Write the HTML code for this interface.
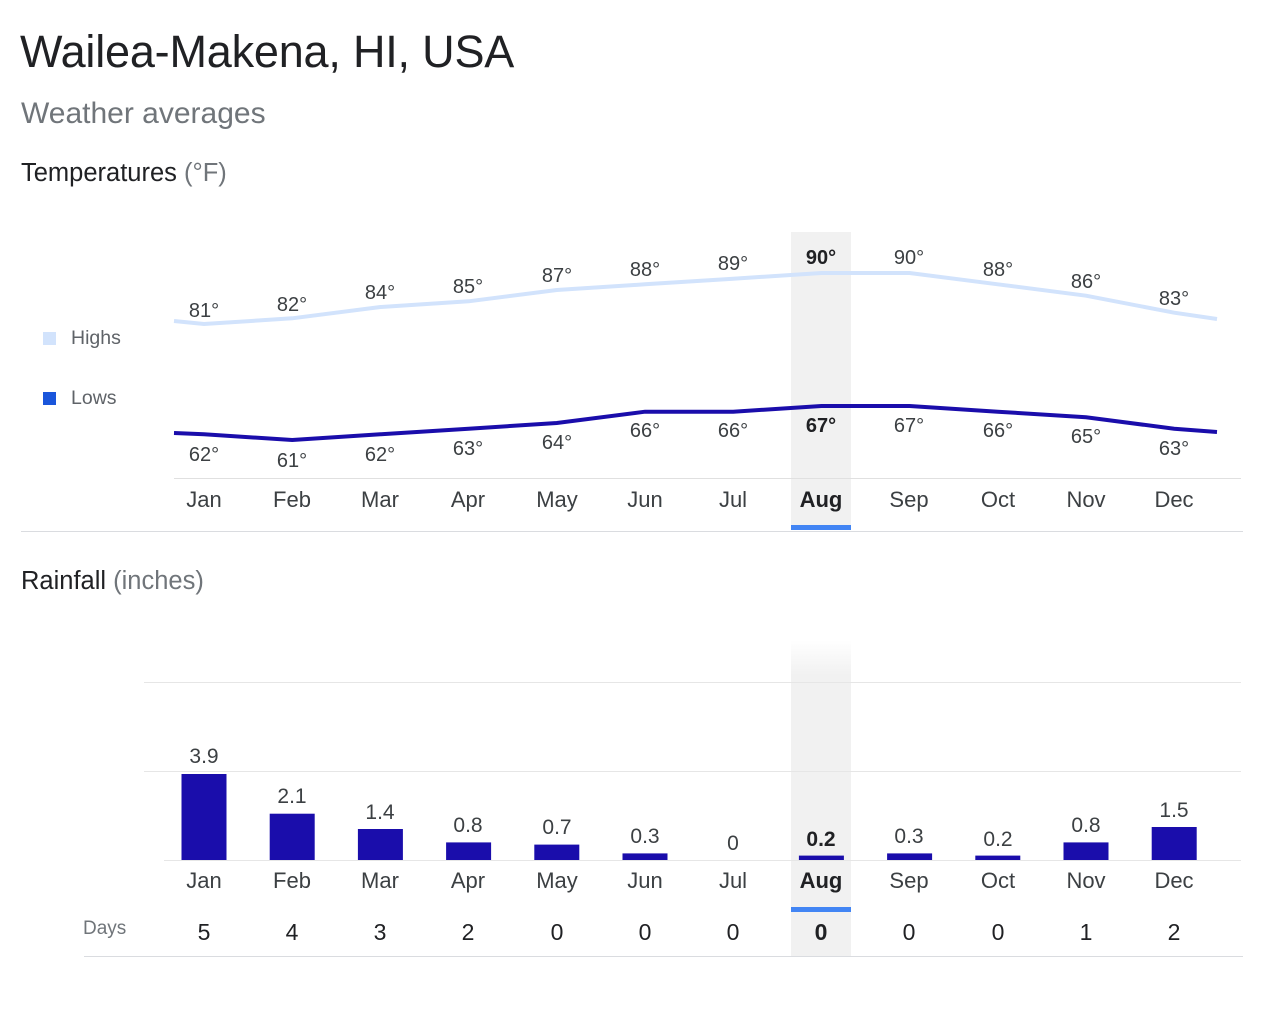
<!DOCTYPE html>
<html><head><meta charset="utf-8"><style>
html,body{margin:0;padding:0;background:#fff;}
body{width:1284px;height:1012px;overflow:hidden;font-family:"Liberation Sans",Arial,sans-serif;}
svg text{font-family:"Liberation Sans",Arial,sans-serif;}
</style></head><body>
<svg width="1284" height="1012" viewBox="0 0 1284 1012" xmlns="http://www.w3.org/2000/svg">
<defs><linearGradient id="fade" x1="0" y1="0" x2="0" y2="1"><stop offset="0" stop-color="#f1f1f1" stop-opacity="0"/><stop offset="1" stop-color="#f1f1f1"/></linearGradient></defs>
<text x="20" y="67" font-size="45" fill="#202124" letter-spacing="-0.2">Wailea-Makena, HI, USA</text>
<text x="21" y="123" font-size="30" fill="#70757a">Weather averages</text>
<text x="21" y="181" font-size="25.5" fill="#202124">Temperatures <tspan fill="#70757a">(°F)</tspan></text>
<rect x="791" y="232" width="60" height="298" fill="#f1f1f1"/>
<rect x="791" y="525" width="60" height="5" fill="#4285f4"/>
<rect x="43" y="332" width="13" height="13" fill="#d2e3fc"/>
<text x="71" y="344" font-size="19.5" fill="#5f6368">Highs</text>
<rect x="43" y="392" width="13" height="13" fill="#1a56db"/>
<text x="71" y="404" font-size="19.5" fill="#5f6368">Lows</text>
<line x1="174" y1="478.5" x2="1241" y2="478.5" stroke="#e0e0e0" stroke-width="1"/>
<polyline fill="none" stroke="#d2e3fc" stroke-width="4" points="174,321 204,324 292.2,318.3 380.4,307 468.6,301.3 556.8,290 645,284.3 733.2,278.7 821.4,273 909.6,273 997.8,284.3 1086,295.7 1174.2,312.7 1217,319"/>
<polyline fill="none" stroke="#1a0dab" stroke-width="4" points="174,433 204,434.3 292.2,440 380.4,434.3 468.6,428.7 556.8,423 645,411.7 733.2,411.7 821.4,406 909.6,406 997.8,411.7 1086,417.3 1174.2,428.7 1217,432"/>
<g font-size="20" fill="#3c4043" text-anchor="middle">
<text x="204" y="317">81°</text><text x="292" y="311">82°</text><text x="380" y="299">84°</text><text x="468" y="293">85°</text><text x="557" y="282">87°</text><text x="645" y="276">88°</text><text x="733" y="270">89°</text><text x="821" y="264" font-weight="bold" fill="#202124">90°</text><text x="909" y="264">90°</text><text x="998" y="276">88°</text><text x="1086" y="288">86°</text><text x="1174" y="305">83°</text>
<text x="204" y="461">62°</text><text x="292" y="467">61°</text><text x="380" y="461">62°</text><text x="468" y="455">63°</text><text x="557" y="449">64°</text><text x="645" y="437">66°</text><text x="733" y="437">66°</text><text x="821" y="432" font-weight="bold" fill="#202124">67°</text><text x="909" y="432">67°</text><text x="998" y="437">66°</text><text x="1086" y="443">65°</text><text x="1174" y="455">63°</text>
</g>
<g font-size="22" fill="#3c4043" text-anchor="middle">
<text x="204" y="507">Jan</text><text x="292" y="507">Feb</text><text x="380" y="507">Mar</text><text x="468" y="507">Apr</text><text x="557" y="507">May</text><text x="645" y="507">Jun</text><text x="733" y="507">Jul</text><text x="821" y="507" font-weight="bold" fill="#202124">Aug</text><text x="909" y="507">Sep</text><text x="998" y="507">Oct</text><text x="1086" y="507">Nov</text><text x="1174" y="507">Dec</text>
</g>
<line x1="21" y1="531.5" x2="1243" y2="531.5" stroke="#dadce0" stroke-width="1"/>
<text x="21" y="589" font-size="25.5" fill="#202124">Rainfall <tspan fill="#70757a">(inches)</tspan></text>
<rect x="791" y="640" width="60" height="35" fill="url(#fade)"/>
<rect x="791" y="675" width="60" height="281" fill="#f1f1f1"/>
<rect x="791" y="907" width="60" height="5" fill="#4285f4"/>
<g stroke="#e6e6e6" stroke-width="1">
<line x1="144" y1="682.5" x2="1241" y2="682.5"/><line x1="144" y1="771.5" x2="1241" y2="771.5"/><line x1="164" y1="860.5" x2="1241" y2="860.5"/>
</g>
<g fill="#1a0dab">
<rect x="181.5" y="774" width="45" height="86"/><rect x="269.7" y="813.7" width="45" height="46.3"/><rect x="357.9" y="829" width="45" height="31"/><rect x="446.1" y="842.4" width="45" height="17.6"/><rect x="534.3" y="844.6" width="45" height="15.4"/><rect x="622.5" y="853.4" width="45" height="6.6"/><rect x="798.9" y="855.6" width="45" height="4.4"/><rect x="887.1" y="853.4" width="45" height="6.6"/><rect x="975.3" y="855.6" width="45" height="4.4"/><rect x="1063.5" y="842.4" width="45" height="17.6"/><rect x="1151.7" y="827" width="45" height="33"/>
</g>
<g font-size="21" fill="#3c4043" text-anchor="middle">
<text x="204" y="763">3.9</text><text x="292" y="803">2.1</text><text x="380" y="819">1.4</text><text x="468" y="832">0.8</text><text x="557" y="834">0.7</text><text x="645" y="843">0.3</text><text x="733" y="850">0</text><text x="821" y="846" font-weight="bold" fill="#202124">0.2</text><text x="909" y="843">0.3</text><text x="998" y="846">0.2</text><text x="1086" y="832">0.8</text><text x="1174" y="817">1.5</text>
</g>
<g font-size="22" fill="#3c4043" text-anchor="middle">
<text x="204" y="888">Jan</text><text x="292" y="888">Feb</text><text x="380" y="888">Mar</text><text x="468" y="888">Apr</text><text x="557" y="888">May</text><text x="645" y="888">Jun</text><text x="733" y="888">Jul</text><text x="821" y="888" font-weight="bold" fill="#202124">Aug</text><text x="909" y="888">Sep</text><text x="998" y="888">Oct</text><text x="1086" y="888">Nov</text><text x="1174" y="888">Dec</text>
</g>
<text x="83" y="934" font-size="19" fill="#70757a">Days</text>
<g font-size="23" fill="#202124" text-anchor="middle">
<text x="204" y="940">5</text><text x="292" y="940">4</text><text x="380" y="940">3</text><text x="468" y="940">2</text><text x="557" y="940">0</text><text x="645" y="940">0</text><text x="733" y="940">0</text><text x="821" y="940" font-weight="bold">0</text><text x="909" y="940">0</text><text x="998" y="940">0</text><text x="1086" y="940">1</text><text x="1174" y="940">2</text>
</g>
<line x1="84" y1="956.5" x2="1243" y2="956.5" stroke="#dadce0" stroke-width="1"/>
</svg>
</body></html>
